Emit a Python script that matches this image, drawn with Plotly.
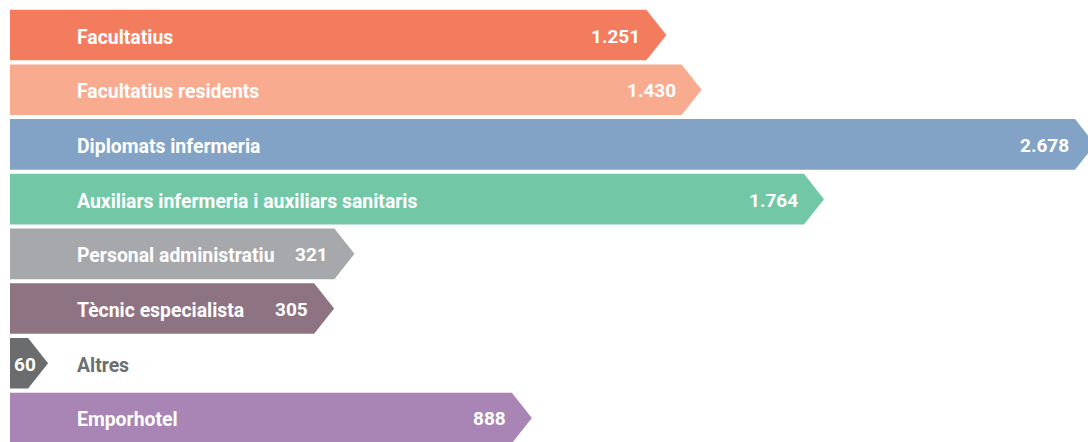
import plotly.graph_objects as go

# ---- data -------------------------------------------------------------
categories = [
    "Facultatius",
    "Facultatius residents",
    "Diplomats infermeria",
    "Auxiliars infermeria i auxiliars sanitaris",
    "Personal administratiu",
    "Tècnic especialista",
    "Altres",
    "Emporhotel",
]
values = [1251, 1430, 2678, 1764, 321, 305, 60, 888]
# lengths of the arrows (to the tip) as drawn in the reference (not to scale)
bar_length = [1620, 1707, 2678, 2009, 850, 800, 94, 1288]
colors = ["#F37C5E", "#F9AB8F", "#82A3C6", "#72C8A6", "#A7A8AB",
          "#8E7383", "#6B6C6E", "#A985B5"]

# ---- geometry / style ------------------------------------------------
W, H = 1088, 442
unit_per_px = max(bar_length) / 1085.0
x_range = [-10 * unit_per_px, 1078 * unit_per_px]
row_px = 54.71
y_range = [(H - 35) / row_px, -35 / row_px]
half_h = 25.3 / row_px
tip_px = 20
tip = tip_px * unit_per_px

fig = go.Figure()
for i, (L, c) in enumerate(zip(bar_length, colors)):
    body = L - tip
    fig.add_trace(go.Scatter(
        x=[0, body, L, body, 0, 0],
        y=[i - half_h, i - half_h, i, i + half_h, i + half_h, i - half_h],
        mode="lines", fill="toself", fillcolor=c,
        line=dict(width=0, color=c), hoverinfo="skip", showlegend=False,
    ))

font_family = "Roboto, Arial, sans-serif"
annotations = []
for i, (cat, v, L) in enumerate(zip(categories, values, bar_length)):
    inside = cat != "Altres"
    annotations.append(dict(
        x=0, y=i, xref="x", yref="y", xanchor="left", yanchor="middle",
        xshift=65, yshift=-2, text=cat, showarrow=False,
        font=dict(family=font_family, size=19.4, weight="bold",
                  color="#FFFFFF" if inside else "#6D6E70"),
    ))
    label = f"{v:,}".replace(",", ".")
    body_px = (L - tip) / unit_per_px
    if body_px < 40:
        # too short for a right-aligned label: start it at the bar's base
        pos = dict(x=0, xanchor="left", xshift=2)
    else:
        pos = dict(x=L - tip, xanchor="right", xshift=-4)
    annotations.append(dict(
        y=i, xref="x", yref="y", yanchor="middle", yshift=-1,
        text=label, showarrow=False,
        font=dict(family=font_family, size=19, weight="bold", color="#FFFFFF"),
        **pos,
    ))

fig.update_layout(
    width=W, height=H,
    margin=dict(l=0, r=0, t=0, b=0),
    paper_bgcolor="#FFFFFF", plot_bgcolor="#FFFFFF",
    xaxis=dict(range=x_range, visible=False, fixedrange=True),
    yaxis=dict(range=y_range, visible=False, fixedrange=True),
    annotations=annotations,
)

fig.write_html("out.html", config={"displayModeBar": False},
               post_script="document.body.style.margin='0';")
